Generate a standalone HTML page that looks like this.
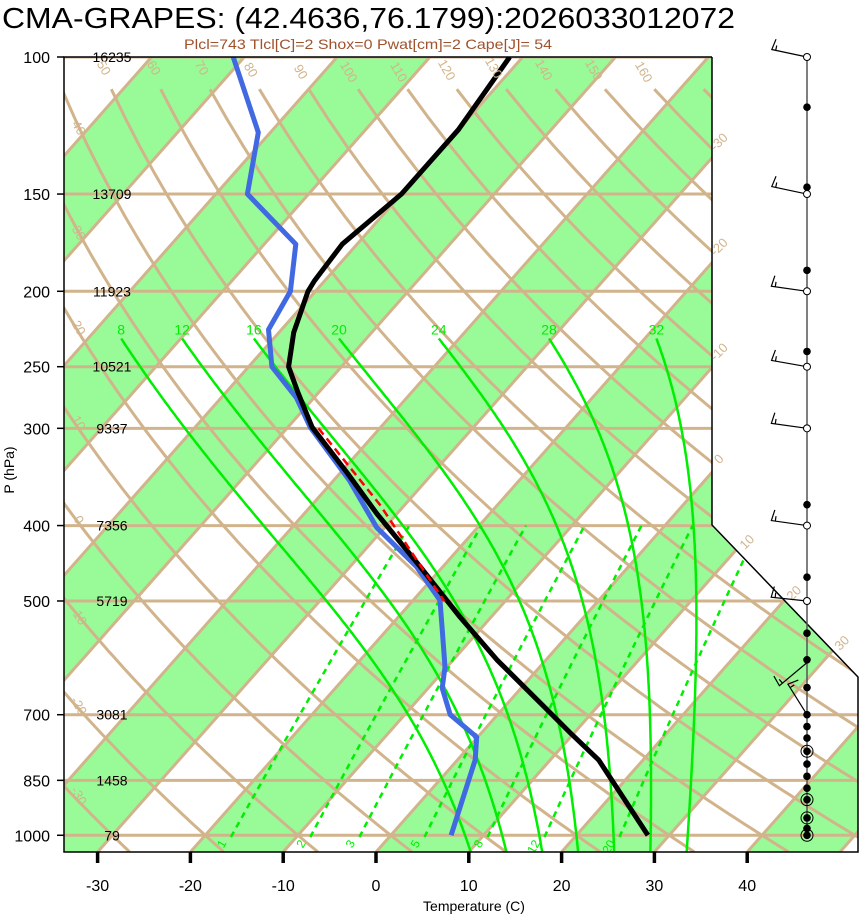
<!DOCTYPE html>
<html><head><meta charset="utf-8"><title>Skew-T</title>
<style>
html,body{margin:0;padding:0;background:#fff;}
svg{display:block;font-family:"Liberation Sans",sans-serif;}
</style></head>
<body>
<svg id="chart" xmlns="http://www.w3.org/2000/svg" width="860" height="914" viewBox="0 0 860 914">
<defs>
<clipPath id="plotclip"><polygon points="64,57 712,57 712,525 858,677 858,852 64,852"/></clipPath>
</defs>
<rect x="0" y="0" width="860" height="914" fill="#fff"/>
<text x="2" y="28" font-size="29" textLength="733" lengthAdjust="spacingAndGlyphs" fill="#000">CMA-GRAPES: (42.4636,76.1799):2026033012072</text>
<text x="184" y="49" font-size="14" textLength="368" lengthAdjust="spacingAndGlyphs" fill="#a0522d">Plcl=743 Tlcl[C]=2 Shox=0 Pwat[cm]=2 Cape[J]= 54</text>
<g id="plot" clip-path="url(#plotclip)"></g>
<g id="over"></g>
</svg>
<script>
// ---- data ----
const tempP = [100,124,150,174,194,200,226,250,270,299,342,386,452,524,595,690,739,800,1000];
const tempT = [-61.4,-60.0,-60.0,-61.6,-61.1,-60.8,-58.4,-55.7,-52.2,-47.4,-39.3,-32.2,-22.4,-13.4,-5.3,4.9,9.6,15.2,27.7];
const dewP = [100,125,150,174,200,224,250,274,299,350,402,452,499,550,608,647,700,748,800,1000];
const dewT = [-91.2,-81.3,-76.6,-66.6,-62.7,-61.4,-57.5,-51.9,-47.6,-38.3,-30.9,-22.8,-17.1,-13.7,-10.2,-8.5,-5.1,-0.1,1.9,6.5];
const parcelP = [300,376,500];
const parcelT = [-46.6,-32.7,-16.6];
const isobarLevels = [100,150,200,250,300,400,500,700,850,1000];
const heightLabels = ["16235","13709","11923","10521","9337","7356","5719","3081","1458","79"];
const tempTicks = [-30,-20,-10,0,10,20,30,40];
const moistLabels = [8,12,16,20,24,28,32];
const mixLabels = [1,2,3,5,8,12,20];
const dotP = [116,147,188,239,300,376,466,500,550,595,646,700,725,750,780,810,840,870,900,950,980,1000];
const ringP = [780,900,950,1000];
const windP = [100,150,200,250,300,400,500,600,700];
const windAngle = [12,12,8,10,8,8,6,-40,58];

// ---- scales ----
const Y = p => 57 + 338*Math.log(p/100);
const X = (T,p) => 376 + 9.28*T + (852 - Y(p))/1.13;
const NS='http://www.w3.org/2000/svg';
const svg=document.getElementById('chart');
const plot=document.getElementById('plot');
const over=document.getElementById('over');
function mk(tag, parent, attrs){const e=document.createElementNS(NS,tag);for(const k in attrs)e.setAttribute(k,attrs[k]);parent.appendChild(e);return e;}
function pathFrom(pts){return pts.map((q,i)=>(i?'L':'M')+q[0].toFixed(1)+','+q[1].toFixed(1)).join(' ');}
const TAN='#d2b48c', GREEN='#00ee00';

// green bands
for(let T0=-140;T0<=40;T0+=20){
  const xa=376+9.28*T0, xb=376+9.28*(T0+10), off=(852-57)/1.13;
  const g=mk('polygon',plot,{points:`${xa},852 ${xb},852 ${xb+off},57 ${xa+off},57`,fill:'#98fb98'});
  
  
}
// isobars
isobarLevels.forEach(p=>{
  const l=mk('line',plot,{x1:60,x2:860,y1:Y(p),y2:Y(p),stroke:TAN,'stroke-width':3});
  
  
});
// isotherms
for(let T=-150;T<=60;T+=10){
  const l=mk('line',plot,{x1:X(T,1050),y1:Y(1050),x2:X(T,100),y2:Y(100),stroke:TAN,'stroke-width':3});
  
  
}
// dry adiabats
for(let th=-40;th<=200;th+=10){
  const pts=[];
  for(let p=1050;p>=110;p-=10){const T=(th+273.15)*Math.pow(p/1000,0.286)-273.15;pts.push([X(T,p),Y(p)]);}
  const pa=mk('path',plot,{d:pathFrom(pts),fill:'none',stroke:TAN,'stroke-width':3});
  
  
}
// mixing ratio lines
function tdFromW(w,p){const e=w*p/(622+w);const L=Math.log(e/6.112);return 243.5*L/(17.67-L);}
mixLabels.forEach(w=>{
  const pts=[];
  for(let p=1005;p>=400;p-=10){pts.push([X(tdFromW(w,p),p),Y(p)]);}
  pts.push([X(tdFromW(w,400),400),Y(400)]);
  const pa=mk('path',plot,{d:pathFrom(pts),fill:'none',stroke:GREEN,'stroke-width':2.5,'stroke-dasharray':'6,5'});
  
  
  const x0=X(tdFromW(w,1005),1005)-4, y0=Y(1005)+6;
  const t=mk('text',plot,{x:x0,y:y0,'font-size':12,fill:GREEN,transform:`rotate(-60 ${x0} ${y0})`,'text-anchor':'end'});
  t.textContent=String(w);
  
  
});
// moist adiabats
function dTdp(T,p){const Tc=T-273.15;const es=6.112*Math.exp(17.67*Tc/(Tc+243.5));const rs=0.622*es/(p-es);
  return (1/p)*(287*T+2.5e6*rs)/(1005+(2.5e6*2.5e6*rs*0.622)/(287*T*T));}
moistLabels.forEach(tw=>{
  const up=[];let T=tw+273.15;
  for(let p=1000;p>=230;p-=2){up.push([p,T]);const k1=dTdp(T,p);const k2=dTdp(T-2*k1,p-2);T=T-2*(k1+k2)/2;}
  const dn=[];T=tw+273.15;
  for(let p=1000;p<=1052;p+=2){dn.push([p,T]);const k1=dTdp(T,p);const k2=dTdp(T+2*k1,p+2);T=T+2*(k1+k2)/2;}
  const all=up.reverse().concat(dn.slice(1));
  const pts=all.map(q=>[X(q[1]-273.15,q[0]),Y(q[0])]);
  const pa=mk('path',plot,{d:pathFrom(pts),fill:'none',stroke:GREEN,'stroke-width':2.5});
  
  
  const t=mk('text',over,{x:pts[0][0],y:pts[0][1]-4,'font-size':14,fill:GREEN,'text-anchor':'middle'});
  t.textContent=String(tw);
  
  
});
// profiles
const dew=mk('path',plot,{d:pathFrom(dewP.map((p,i)=>[X(dewT[i],p),Y(p)])),fill:'none',stroke:'#4169e1','stroke-width':5,'stroke-linejoin':'round'});


const tmp=mk('path',plot,{d:pathFrom(tempP.map((p,i)=>[X(tempT[i],p),Y(p)])),fill:'none',stroke:'#000','stroke-width':5,'stroke-linejoin':'round'});


const par=mk('path',plot,{d:pathFrom(parcelP.map((p,i)=>[X(parcelT[i],p),Y(p)])),fill:'none',stroke:'#ff0000','stroke-width':2.5,'stroke-dasharray':'8,5'});



// frame
const fr=mk('polyline',over,{points:'712,57 712,525 858,677 858,852 64,852 64,57 712,57',fill:'none',stroke:'#000','stroke-width':1.5});


// pressure axis labels
isobarLevels.forEach((p,i)=>{
  const t=mk('text',over,{x:50,y:Y(p)+6,'font-size':16,'text-anchor':'end',fill:'#000'});
  t.textContent=String(p);
  
  
  const tk=mk('line',over,{x1:57,x2:64,y1:Y(p),y2:Y(p),stroke:'#000','stroke-width':1.5});
  
  
  const h=mk('text',over,{x:112,y:Y(p)+5,'font-size':14,'text-anchor':'middle',fill:'#000'});
  h.textContent=heightLabels[i];
  
  
});
tempTicks.forEach(T=>{
  const x=376+9.28*T;
  const tk=mk('line',over,{x1:x,x2:x,y1:852,y2:863,stroke:'#000','stroke-width':3.5});
  
  
  const t=mk('text',over,{x:x,y:891,'font-size':16,'text-anchor':'middle',fill:'#000'});
  t.textContent=String(T);
  
  
});
const xt=mk('text',over,{x:474,y:911,'font-size':14,'text-anchor':'middle',fill:'#000'});
xt.textContent='Temperature (C)';


const yt=mk('text',over,{x:14,y:470,'font-size':14,'text-anchor':'middle',fill:'#000',transform:'rotate(-90 14 470)'});
yt.textContent='P (hPa)';



// tan grid labels
const tanLabels=[["-30",722,145,-45],["-20",722,250,-45],["-10",722,355,-45],["0",722,462,-45],["10",750,545,-45],["20",797,596,-45],["30",845,646,-45],
["40",75,130,60],["30",75,235,60],["20",75,330,60],["10",75,425,60],["0",75,522,60],["-10",75,618,60],["-20",75,708,60],["-30",75,798,60],
["50",100,70,60],["60",150,70,60],["70",198,70,60],["80",247,72,60],["90",297,74,60],["100",345,74,60],["110",395,74,60],["120",443,72,60],["130",490,70,60],["140",540,72,60],["150",590,72,60],["160",640,74,60]];
tanLabels.forEach(a=>{
  const t=mk('text',over,{x:a[1],y:a[2],'font-size':13,fill:TAN,'text-anchor':'middle',transform:`rotate(${a[3]} ${a[1]} ${a[2]})`});
  t.textContent=a[0];
  
  
});

// wind column
const WX=807;
const ax=mk('line',over,{x1:WX,x2:WX,y1:57,y2:Y(1000),stroke:'#555','stroke-width':1.5});


dotP.forEach(p=>{
  const c=mk('circle',over,{cx:WX,cy:Y(p),r:3.8,fill:'#000'});
  
  
});
ringP.forEach(p=>{
  const c=mk('circle',over,{cx:WX,cy:Y(p),r:6,fill:'none',stroke:'#000','stroke-width':1});
  
  
});
windP.forEach((p,i)=>{
  const cy=Y(p), a=windAngle[i]*Math.PI/180, L=36;
  const ex=WX-L*Math.cos(a), ey=cy-L*Math.sin(a);
  const ux=-Math.cos(a), uy=-Math.sin(a);
  const nx=uy, ny=-ux; // perpendicular
  const nsgn = ny<0?1:-1;
  const bx=ex+nsgn*nx*11-ux*2, by=ey+nsgn*ny*11-uy*2;
  const hx=ex-ux*(-4), hy=ey-uy*(-4);
  const hx0=ex-ux*4, hy0=ey-uy*4;
  const d=`M${WX},${cy} L${ex},${ey} L${bx},${by} M${hx0},${hy0} L${hx0+nsgn*nx*5},${hy0+nsgn*ny*5}`;
  const pa=mk('path',over,{d:d,fill:'none',stroke:'#000','stroke-width':1.2});
  
  
  if(i<7){
    const c=mk('circle',over,{cx:WX,cy:cy,r:3.5,fill:'#fff',stroke:'#000','stroke-width':1});
    
    
  }
});
</script>
</body></html>
